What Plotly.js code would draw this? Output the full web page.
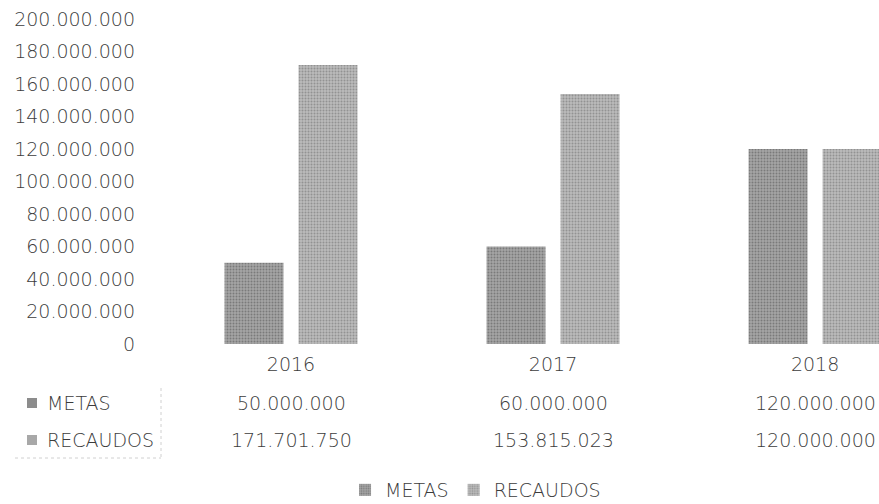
<!DOCTYPE html>
<html>
<head>
<meta charset="utf-8">
<script src="https://cdn.plot.ly/plotly-3.0.1.min.js"></script>
<style>html,body{margin:0;padding:0;background:#fff;}#chart{width:879px;height:504px;}</style>
</head>
<body>
<div id="chart"></div>
<script>
var categories = ['2016', '2017', '2018'];
var metas = [50000000, 60000000, 120000000];
var recaudos = [171701750, 153815023, 120000000];
var seriesNames = ['METAS', 'RECAUDOS'];

var FONT = '"DejaVu Sans Light", "DejaVu Sans ExtraLight", "DejaVu Sans"';
var FS = 19;
var TXT = '#3c3c3c';
var C_METAS = '#9c9c9c';
var C_REC = '#b2b2b2';

var PLOT_L = 160, PLOT_W = 719, PLOT_T = 19, PLOT_H = 325;
var XMAX = 2.244;

function fmt(v) {
  return String(Math.round(v)).replace(/\B(?=(\d{3})+(?!\d))/g, '.');
}
function px2paperX(px) { return (px - PLOT_L) / PLOT_W; }
function px2paperY(py) { return (PLOT_T + PLOT_H - py) / PLOT_H; }

var traces = [
  {type: 'bar', name: seriesNames[0], x: categories, y: metas,
   marker: {color: C_METAS, line: {width: 0},
     pattern: {shape: '.', fgcolor: '#7a7a7a', bgcolor: '#a6a6a6', size: 3, solidity: 0.35}},
   hoverinfo: 'none'},
  {type: 'bar', name: seriesNames[1], x: categories, y: recaudos,
   marker: {color: C_REC, line: {width: 0},
     pattern: {shape: '.', fgcolor: '#929292', bgcolor: '#bbbbbb', size: 3, solidity: 0.35}},
   hoverinfo: 'none'}
];

var annotations = [];
var shapes = [];
var rows = [metas, recaudos];
var rowColors = ['#8c8c8c', '#a8a8a8'];
var rowY = [403, 440];
for (var r = 0; r < rows.length; r++) {
  annotations.push({
    xref: 'paper', yref: 'paper', x: px2paperX(45), y: px2paperY(rowY[r]),
    xanchor: 'left', yanchor: 'middle', showarrow: false,
    text: seriesNames[r],
    font: {family: FONT, size: FS, color: TXT}
  });
  shapes.push({type: 'rect', xref: 'paper', yref: 'paper',
    x0: px2paperX(27), x1: px2paperX(37), y0: px2paperY(rowY[r] - 5), y1: px2paperY(rowY[r] + 5),
    fillcolor: rowColors[r], line: {width: 0}});
  for (var i = 0; i < categories.length; i++) {
    annotations.push({
      xref: 'paper', yref: 'paper', x: (i + 0.5) / (XMAX + 0.5), y: px2paperY(rowY[r]),
      xanchor: 'center', yanchor: 'middle', showarrow: false, text: fmt(rows[r][i]),
      font: {family: FONT, size: FS, color: TXT}
    });
  }
}

var lineStyle = {color: '#d0d0d0', width: 1, dash: 'dot'};
shapes.push({type: 'line', xref: 'paper', yref: 'paper', x0: px2paperX(161), x1: px2paperX(161),
  y0: px2paperY(388), y1: px2paperY(458), line: lineStyle});
shapes.push({type: 'line', xref: 'paper', yref: 'paper', x0: px2paperX(15), x1: px2paperX(161),
  y0: px2paperY(458), y1: px2paperY(458), line: lineStyle});

var layout = {
  width: 879, height: 504,
  margin: {l: PLOT_L, r: 0, t: PLOT_T, b: 504 - PLOT_T - PLOT_H, pad: 0},
  paper_bgcolor: '#fff', plot_bgcolor: '#fff',
  separators: ',.',
  barmode: 'group', bargap: 0.435, bargroupgap: 0.203,
  showlegend: true,
  legend: {orientation: 'h', xref: 'container', yref: 'container', x: 0.541, xanchor: 'center',
           y: 14 / 504, yanchor: 'middle', font: {family: FONT, size: FS, color: TXT},
           itemclick: false, traceorder: 'normal'},
  xaxis: {type: 'category', range: [-0.5, XMAX], showgrid: false, zeroline: false, showline: false,
          ticks: '', ticklabelstandoff: 7, tickfont: {family: FONT, size: FS, color: TXT},
          fixedrange: true},
  yaxis: {range: [0, 200000000], dtick: 20000000, tick0: 0, tickformat: ',d', showgrid: false,
          zeroline: false, showline: false, ticks: '', ticklabelstandoff: 24,
          tickfont: {family: FONT, size: FS, color: TXT}, fixedrange: true},
  annotations: annotations,
  shapes: shapes
};

Plotly.newPlot('chart', traces, layout, {displayModeBar: false, staticPlot: true});
</script>
</body>
</html>
